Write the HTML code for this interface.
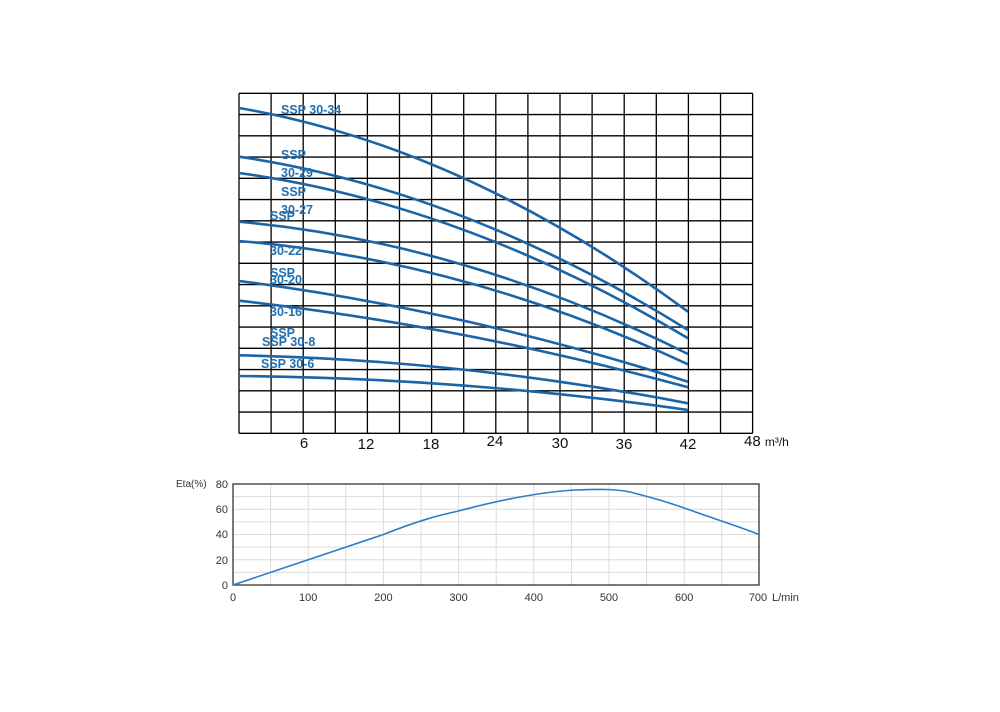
<!DOCTYPE html>
<html><head><meta charset="utf-8"><style>
html,body{margin:0;padding:0;background:#fff;}
svg{display:block;}
</style></head><body>
<svg width="1000" height="712" viewBox="0 0 1000 712" xmlns="http://www.w3.org/2000/svg">
<g stroke="#000" stroke-width="1.3">
<line x1="239" y1="93.3" x2="239" y2="433.3"/><line x1="271.1" y1="93.3" x2="271.1" y2="433.3"/><line x1="303.2" y1="93.3" x2="303.2" y2="433.3"/><line x1="335.3" y1="93.3" x2="335.3" y2="433.3"/><line x1="367.4" y1="93.3" x2="367.4" y2="433.3"/><line x1="399.5" y1="93.3" x2="399.5" y2="433.3"/><line x1="431.6" y1="93.3" x2="431.6" y2="433.3"/><line x1="463.7" y1="93.3" x2="463.7" y2="433.3"/><line x1="495.8" y1="93.3" x2="495.8" y2="433.3"/><line x1="527.9" y1="93.3" x2="527.9" y2="433.3"/><line x1="560" y1="93.3" x2="560" y2="433.3"/><line x1="592.1" y1="93.3" x2="592.1" y2="433.3"/><line x1="624.2" y1="93.3" x2="624.2" y2="433.3"/><line x1="656.3" y1="93.3" x2="656.3" y2="433.3"/><line x1="688.4" y1="93.3" x2="688.4" y2="433.3"/><line x1="720.5" y1="93.3" x2="720.5" y2="433.3"/><line x1="752.6" y1="93.3" x2="752.6" y2="433.3"/>
<line x1="239" y1="93.3" x2="752.6" y2="93.3"/><line x1="239" y1="114.55" x2="752.6" y2="114.55"/><line x1="239" y1="135.8" x2="752.6" y2="135.8"/><line x1="239" y1="157.05" x2="752.6" y2="157.05"/><line x1="239" y1="178.3" x2="752.6" y2="178.3"/><line x1="239" y1="199.55" x2="752.6" y2="199.55"/><line x1="239" y1="220.8" x2="752.6" y2="220.8"/><line x1="239" y1="242.05" x2="752.6" y2="242.05"/><line x1="239" y1="263.3" x2="752.6" y2="263.3"/><line x1="239" y1="284.55" x2="752.6" y2="284.55"/><line x1="239" y1="305.8" x2="752.6" y2="305.8"/><line x1="239" y1="327.05" x2="752.6" y2="327.05"/><line x1="239" y1="348.3" x2="752.6" y2="348.3"/><line x1="239" y1="369.55" x2="752.6" y2="369.55"/><line x1="239" y1="390.8" x2="752.6" y2="390.8"/><line x1="239" y1="412.05" x2="752.6" y2="412.05"/><line x1="239" y1="433.3" x2="752.6" y2="433.3"/>
</g>
<g fill="none" stroke="#1a64a8" stroke-width="2.6">
<path d="M239,108 Q463.5,146.5 688,311.7"/>
<path d="M239,156.7 Q463.5,190 688,330"/>
<path d="M239,173 Q463.5,204 688,338.3"/>
<path d="M239,221.7 Q463.5,242 688,354"/>
<path d="M239,241 Q463.5,260 688,364.3"/>
<path d="M239,281 Q463.5,310 688,381.7"/>
<path d="M239,300.7 Q463.5,326 688,387.3"/>
<path d="M239,355.3 Q463.5,360 688,403.3"/>
<path d="M239,376 Q463.5,378 688,410"/>
</g>
<g font-family="'Liberation Sans',sans-serif" font-weight="bold" font-size="12.5" fill="#1f6fb0">
<text x="281" y="114">SSP 30-34</text>
<text x="281" y="159">SSP</text>
<text x="281" y="177">30-29</text>
<text x="281" y="196">SSP</text>
<text x="281" y="214">30-27</text>
<text x="270" y="220">SSP</text>
<text x="270" y="255">30-22</text>
<text x="270" y="277">SSP</text>
<text x="270" y="284">30-20</text>
<text x="270" y="316">30-16</text>
<text x="270" y="337">SSP</text>
<text x="262" y="346">SSP 30-8</text>
<text x="261" y="368">SSP 30-6</text>
</g>
<g font-family="'Liberation Sans',sans-serif" font-size="15" fill="#111" text-anchor="middle">
<text x="304" y="448">6</text><text x="366" y="449">12</text><text x="431" y="449">18</text><text x="495" y="446">24</text><text x="560" y="448">30</text><text x="624" y="449">36</text><text x="688" y="449">42</text>
<text x="744" y="446" text-anchor="start">48 <tspan font-size="12">m³/h</tspan></text>
</g>
<g stroke="#dcdcdc" stroke-width="1">
<line x1="270.6" y1="484" x2="270.6" y2="585"/><line x1="308.2" y1="484" x2="308.2" y2="585"/><line x1="345.8" y1="484" x2="345.8" y2="585"/><line x1="383.4" y1="484" x2="383.4" y2="585"/><line x1="421" y1="484" x2="421" y2="585"/><line x1="458.6" y1="484" x2="458.6" y2="585"/><line x1="496.2" y1="484" x2="496.2" y2="585"/><line x1="533.8" y1="484" x2="533.8" y2="585"/><line x1="571.4" y1="484" x2="571.4" y2="585"/><line x1="609" y1="484" x2="609" y2="585"/><line x1="646.6" y1="484" x2="646.6" y2="585"/><line x1="684.2" y1="484" x2="684.2" y2="585"/><line x1="721.8" y1="484" x2="721.8" y2="585"/>
<line x1="233" y1="496.6" x2="759" y2="496.6"/><line x1="233" y1="509.25" x2="759" y2="509.25"/><line x1="233" y1="521.9" x2="759" y2="521.9"/><line x1="233" y1="534.5" x2="759" y2="534.5"/><line x1="233" y1="547.1" x2="759" y2="547.1"/><line x1="233" y1="559.75" x2="759" y2="559.75"/><line x1="233" y1="572.4" x2="759" y2="572.4"/>
</g>
<rect x="233" y="484" width="526" height="101" fill="none" stroke="#333" stroke-width="1.3"/>
<path d="M233,585 L308.2,559.75 L383.4,534.5 C420,520 440,515 458.6,511 C500,500 540,492 575,490 C600,489 615,489 630,492 C650,497 665,501 684.2,508 C715,519 740,527 759,534.5" fill="none" stroke="#2f7cc4" stroke-width="1.6"/>
<g font-family="'Liberation Sans',sans-serif" font-size="11" fill="#333">
<text x="176" y="487" font-size="10">Eta(%)</text>
<g text-anchor="end"><text x="228" y="488">80</text><text x="228" y="513">60</text><text x="228" y="538">40</text><text x="228" y="564">20</text><text x="228" y="589">0</text></g>
<g text-anchor="middle"><text x="233" y="601">0</text><text x="308.2" y="601">100</text><text x="383.4" y="601">200</text><text x="458.6" y="601">300</text><text x="533.8" y="601">400</text><text x="609" y="601">500</text><text x="684.2" y="601">600</text><text x="758" y="601">700</text></g>
<text x="772" y="601">L/min</text>
</g>
</svg>
</body></html>
